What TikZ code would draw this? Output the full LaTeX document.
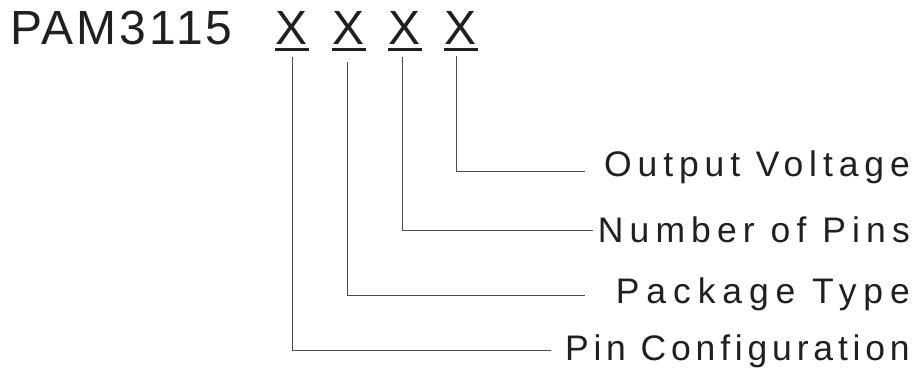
\documentclass[tikz,border=0pt]{standalone}
\usepackage{fontspec}
\setmainfont{Liberation Sans}
\newfontfamily\titlefont[LetterSpace=6.5]{Liberation Sans}
\newfontfamily\labelfontA[LetterSpace=16.6]{Liberation Sans}
\newfontfamily\labelfontB[LetterSpace=17.2]{Liberation Sans}
\newfontfamily\labelfontC[LetterSpace=19.4]{Liberation Sans}
\newfontfamily\labelfontD[LetterSpace=13.6]{Liberation Sans}
\definecolor{ink}{HTML}{231F20}
\definecolor{wire}{HTML}{4A4A4A}
\tikzset{
  titletext/.style={inner sep=0pt, anchor=base west, text=ink, font=\titlefont\fontsize{48}{48}\selectfont},
  xtext/.style={inner sep=0pt, anchor=base, text=ink, font=\fontsize{48}{48}\selectfont},
  labeltext/.style={inner sep=0pt, anchor=base east, text=ink},
  lsize/.style={font=#1\fontsize{35.5}{36}\selectfont},
  ul/.style={draw=ink, line width=3pt},
  conn/.style={draw=wire, line width=0.9pt},
}
\begin{document}
\begin{tikzpicture}[x=1pt,y=-1pt]
\useasboundingbox (0,0) rectangle (917,367);
\node[titletext] (title) at (10,44) {PAM3115};
\node[xtext] (x1) at (292,44) {X};
\node[xtext] (x2) at (348.5,44) {X};
\node[xtext] (x3) at (405,44) {X};
\node[xtext] (x4) at (460.5,44) {X};
\foreach \i in {1,2,3,4} {
  \draw[ul] (x\i.base) ++(-17,5.5) -- ++(34,0);
}
\node[labeltext, lsize=\labelfontA] (l1) at (910,176) {Output Voltage};
\node[labeltext, lsize=\labelfontB] (l2) at (910,242) {Number of Pins};
\node[labeltext, lsize=\labelfontC] (l3) at (910,303) {Package Type};
\node[labeltext, lsize=\labelfontD] (l4) at (910,360) {Pin Configuration};
\coordinate (e1) at (585,171);
\coordinate (e2) at (593,230);
\coordinate (e3) at (585,295);
\coordinate (e4) at (551,350);
\draw[conn] (x4.base) ++(-4.5,12) |- (e1);
\draw[conn] (x3.base) ++(-3,13) |- (e2);
\draw[conn] (x2.base) ++(-1.5,18) |- (e3);
\draw[conn] (x1.base) ++(0,13) |- (e4);
\end{tikzpicture}
\end{document}
